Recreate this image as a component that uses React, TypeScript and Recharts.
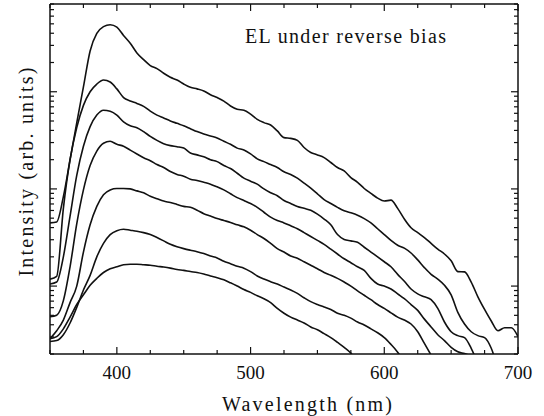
import React from 'react';
import { LineChart, Line, XAxis, YAxis } from 'recharts';

// wavelength grid (nm)
const WAVELENGTH = [
  350, 355, 360, 365, 370, 375, 380, 385, 390, 395,
  400, 405, 410, 415, 420, 425, 430, 435, 440, 445,
  450, 455, 460, 465, 470, 475, 480, 485, 490, 495,
  500, 505, 510, 515, 520, 525, 530, 535, 540, 545,
  550, 555, 560, 565, 570, 575, 580, 585, 590, 595,
  600, 605, 610, 615, 620, 625, 630, 635, 640, 645,
  650, 655, 660, 665, 670, 675, 680, 685, 690, 695, 700,
];

// EL spectra, highest reverse bias first (arb. units)
const EL_1 = [
  4.47, 4.57, 8.32, 20.0, 47.9, 112, 263, 398, 468, 490,
  462, 380, 316, 251, 214, 186, 173, 155, 141, 132,
  120, 111, 107, 102, 93.3, 87.1, 80.2, 71.3, 66.1, 64.6,
  58.9, 52.0, 48.1, 45.5, 39.5, 33.7, 33.1, 31.6, 26.7, 23.7,
  22.4, 21.0, 18.7, 16.6, 15.3, 13.1, 11.7, 10.1, 8.99, 8.05,
  7.50, 7.66, 6.31, 4.90, 3.98, 3.55, 3.16, 2.75, 2.40, 2.14,
  1.82, 1.41, 1.40, 1.10, 0.776, 0.575, 0.437, 0.347, 0.372, 0.372, 0.302,
];
const EL_2 = [
  1.18, 1.26, 6.31, 20.0, 42.7, 72.4, 100, 120, 132, 126,
  107, 87.1, 80.4, 75.9, 70.8, 63.1, 57.5, 53.7, 50.1, 47.3,
  44.7, 41.7, 38.9, 36.7, 35.1, 33.5, 30.9, 28.8, 26.3, 25.1,
  22.9, 20.4, 19.1, 17.8, 16.6, 15.0, 14.1, 12.9, 11.5, 10.2,
  8.91, 7.76, 7.08, 6.46, 5.96, 5.69, 5.37, 4.95, 4.47, 3.89,
  3.39, 2.95, 2.63, 2.46, 2.19, 1.86, 1.55, 1.32, 1.18, 1.02,
  0.813, 0.537, 0.407, 0.339, 0.309, 0.295, 0.229, 0.141,
];
const EL_3 = [
  1.05, 1.10, 2.00, 5.25, 13.8, 27.5, 43.7, 57.5, 64.6, 63.1,
  57.5, 49.0, 44.7, 42.7, 38.9, 34.7, 31.6, 29.2, 27.9, 27.2,
  26.3, 23.4, 22.4, 21.4, 20.0, 19.1, 17.4, 16.2, 14.5, 12.9,
  12.0, 11.2, 10.0, 9.12, 8.51, 7.59, 7.08, 6.61, 6.31, 6.03,
  5.50, 4.90, 4.27, 3.39, 3.02, 2.92, 2.82, 2.51, 2.24, 2.00,
  1.78, 1.58, 1.32, 1.12, 0.933, 0.832, 0.776, 0.724, 0.589, 0.427,
  0.339, 0.309, 0.295, 0.229, 0.158,
];
const EL_4 = [
  0.484, 0.501, 0.708, 1.58, 4.37, 9.77, 17.4, 24.5, 29.5, 30.9,
  28.8, 27.5, 25.1, 22.9, 20.9, 19.5, 17.8, 16.6, 15.1, 14.1,
  13.5, 12.6, 12.2, 11.7, 11.2, 10.5, 9.77, 8.91, 8.13, 7.59,
  7.08, 6.46, 5.75, 5.13, 4.73, 4.47, 4.17, 3.89, 3.55, 3.24,
  2.95, 2.69, 2.40, 2.14, 1.91, 1.74, 1.58, 1.45, 1.20, 1.05,
  1.00, 0.933, 0.832, 0.741, 0.646, 0.562, 0.457, 0.380, 0.316, 0.275,
  0.234, 0.211, 0.202, 0.191,
];
const EL_5 = [
  0.288, 0.347, 0.447, 0.676, 1.00, 2.24, 4.27, 6.61, 8.71, 9.77,
  10.1, 10.1, 10.0, 9.55, 9.12, 8.41, 7.94, 7.50, 7.24, 6.92,
  6.61, 6.46, 6.03, 5.56, 5.25, 4.95, 4.73, 4.52, 4.27, 4.07,
  3.76, 3.39, 3.09, 2.75, 2.43, 2.24, 2.04, 1.93, 1.78, 1.64,
  1.51, 1.38, 1.29, 1.20, 1.10, 1.00, 0.891, 0.804, 0.724, 0.646,
  0.589, 0.531, 0.479, 0.447, 0.407, 0.339, 0.257, 0.195,
];
const EL_6 = [
  0.269, 0.275, 0.316, 0.417, 0.603, 0.912, 1.29, 2.00, 2.75, 3.39,
  3.72, 3.85, 3.76, 3.67, 3.55, 3.39, 3.16, 2.92, 2.69, 2.54,
  2.43, 2.34, 2.26, 2.16, 2.04, 1.95, 1.80, 1.70, 1.60, 1.53,
  1.41, 1.27, 1.18, 1.11, 1.05, 0.977, 0.912, 0.841, 0.759, 0.692,
  0.646, 0.610, 0.575, 0.525, 0.501, 0.468, 0.427, 0.398, 0.363, 0.331,
  0.295, 0.251, 0.209, 0.166,
];
const EL_7 = [
  0.288, 0.302, 0.363, 0.479, 0.646, 0.813, 1.02, 1.20, 1.38, 1.51,
  1.58, 1.66, 1.68, 1.68, 1.66, 1.64, 1.60, 1.57, 1.53, 1.48,
  1.45, 1.41, 1.38, 1.33, 1.27, 1.22, 1.16, 1.08, 1.00, 0.923,
  0.861, 0.794, 0.741, 0.676, 0.589, 0.525, 0.479, 0.447, 0.417, 0.380,
  0.355, 0.324, 0.295, 0.263, 0.234, 0.204, 0.166,
];

const SERIES = [EL_1, EL_2, EL_3, EL_4, EL_5, EL_6, EL_7];

const X_TICKS = [350, 375, 400, 425, 450, 475, 500, 525, 550, 575, 600, 625, 650, 675, 700];
const X_LABELS = [400, 500, 600, 700];
const Y_TICKS = [
  0.2, 0.3, 0.4, 0.5, 0.6, 0.7, 0.8, 0.9,
  1, 2, 3, 4, 5, 6, 7, 8, 9,
  10, 20, 30, 40, 50, 60, 70, 80, 90,
  100, 200, 300, 400, 500, 600, 700, 800,
];
const Y_MAJOR = [1, 10, 100];

const rows = WAVELENGTH.map((wl, i) => {
  const row: Record<string, number | null> = { wl };
  SERIES.forEach((s, k) => {
    row[`c${k + 1}`] = s[i] ?? null;
  });
  return row;
});

const FONT = '"Liberation Serif", "Times New Roman", serif';
const INK = '#111';

function BottomTick({ x, y, payload }: any) {
  const major = payload.value % 100 === 0;
  return (
    <g>
      <line x1={x} y1={y} x2={x} y2={y - (major ? 7 : 4)} stroke={INK} strokeWidth={1.2} />
      {X_LABELS.includes(payload.value) && (
        <text x={x} y={y + 25} textAnchor="middle" fontFamily={FONT} fontSize={19} fill={INK}>
          {payload.value}
        </text>
      )}
    </g>
  );
}

function TopTick({ x, y, payload }: any) {
  const major = payload.value % 100 === 0;
  return <line x1={x} y1={y} x2={x} y2={y + (major ? 7 : 4)} stroke={INK} strokeWidth={1.2} />;
}

function LeftTick({ x, y, payload }: any) {
  const len = Y_MAJOR.includes(payload.value) ? 7 : 4;
  return <line x1={x} y1={y} x2={x + len} y2={y} stroke={INK} strokeWidth={1.2} />;
}

function RightTick({ x, y, payload }: any) {
  const len = Y_MAJOR.includes(payload.value) ? 7 : 4;
  return <line x1={x} y1={y} x2={x - len} y2={y} stroke={INK} strokeWidth={1.2} />;
}

export default function App() {
  const axisLine = { stroke: INK, strokeWidth: 1.5 };
  return (
    <div style={{ position: 'absolute', left: 0, top: 0, background: '#fff' }}>
      <LineChart width={544} height={416} data={rows} margin={{ top: 0, right: 0, bottom: 0, left: 0 }}>
        <XAxis
          dataKey="wl"
          type="number"
          domain={[350, 700]}
          ticks={X_TICKS}
          interval={0}
          height={62}
          tickSize={0}
          tickMargin={0}
          tickLine={false}
          axisLine={axisLine}
          tick={<BottomTick />}
          allowDataOverflow
        />
        <XAxis
          xAxisId="top"
          orientation="top"
          dataKey="wl"
          type="number"
          domain={[350, 700]}
          ticks={X_TICKS}
          interval={0}
          height={4}
          tickSize={0}
          tickMargin={0}
          tickLine={false}
          axisLine={axisLine}
          tick={<TopTick />}
          allowDataOverflow
        />
        <YAxis
          scale="log"
          type="number"
          domain={[0.2, 800]}
          ticks={Y_TICKS}
          interval={0}
          width={50}
          tickSize={0}
          tickMargin={0}
          tickLine={false}
          axisLine={axisLine}
          tick={<LeftTick />}
          allowDataOverflow
        />
        <YAxis
          yAxisId="right"
          orientation="right"
          scale="log"
          type="number"
          domain={[0.2, 800]}
          ticks={Y_TICKS}
          interval={0}
          width={26}
          tickSize={0}
          tickMargin={0}
          tickLine={false}
          axisLine={axisLine}
          tick={<RightTick />}
          allowDataOverflow
        />
        {SERIES.map((_, k) => (
          <Line
            key={k}
            dataKey={`c${k + 1}`}
            type="monotone"
            stroke={INK}
            strokeWidth={1.6}
            dot={false}
            activeDot={false}
            isAnimationActive={false}
          />
        ))}
        <text x={245} y={43} fontFamily={FONT} fontSize={20} fill={INK} textLength={201} lengthAdjust="spacing">
          EL under reverse bias
        </text>
        <text x={222} y={411} fontFamily={FONT} fontSize={20} fill={INK} textLength={170} lengthAdjust="spacing">
          Wavelength (nm)
        </text>
        <text
          x={33}
          y={172}
          transform="rotate(-90 33 172)"
          textAnchor="middle"
          fontFamily={FONT}
          fontSize={20}
          fill={INK}
          textLength={209}
          lengthAdjust="spacing"
        >
          Intensity (arb. units)
        </text>
      </LineChart>
    </div>
  );
}
